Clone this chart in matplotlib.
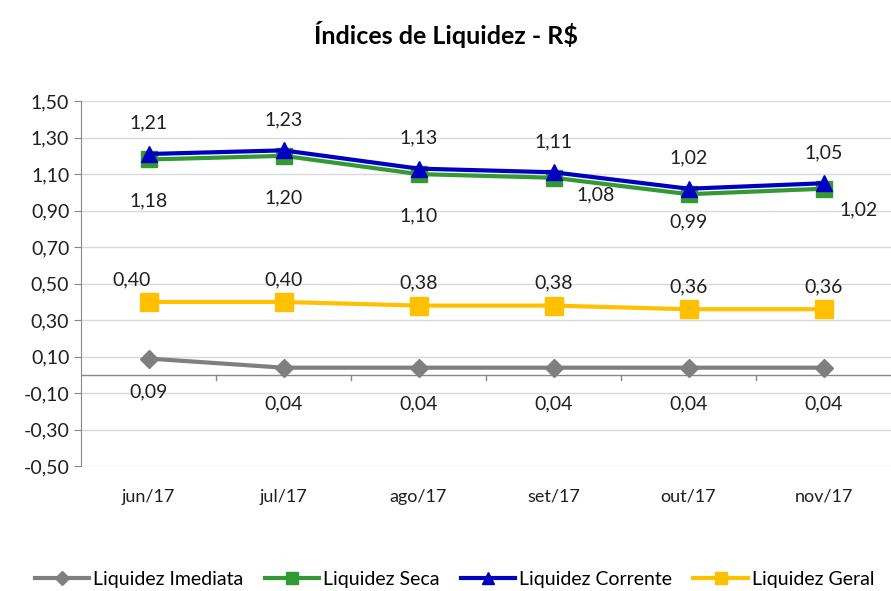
import numpy as np
import matplotlib.pyplot as plt
from matplotlib.ticker import FuncFormatter
from matplotlib.lines import Line2D

plt.rcParams['font.family'] = ['Lato', 'DejaVu Sans']

meses = ['jun/17', 'jul/17', 'ago/17', 'set/17', 'out/17', 'nov/17']
imediata = [0.09, 0.04, 0.04, 0.04, 0.04, 0.04]
seca = [1.18, 1.20, 1.10, 1.08, 0.99, 1.02]
corrente = [1.21, 1.23, 1.13, 1.11, 1.02, 1.05]
geral = [0.40, 0.40, 0.38, 0.38, 0.36, 0.36]

# deslocamento dos rótulos (pontos)
off_seca = [(0, -30), (0, -30), (0, -30), (30, -12), (0, -20), (25, -15)]

def br(v):
    return f'{v:.2f}'.replace('.', ',')

fig = plt.figure(figsize=(8.91, 5.91), dpi=100)
ax = fig.add_axes([0.091, 0.211, 0.909, 0.618])
x = np.arange(len(meses))

ax.plot(x, imediata, color='#7F7F7F', lw=3, marker='D', ms=9, label='Liquidez Imediata', zorder=3)
ax.plot(x, seca, color='#339933', lw=3, marker='s', ms=11, label='Liquidez Seca', zorder=4)
ax.plot(x, corrente, color='#0000C0', lw=3, marker='^', ms=11, label='Liquidez Corrente', zorder=5)
ax.plot(x, geral, color='#FFC000', lw=3, marker='s', ms=13, label='Liquidez Geral', zorder=3)

fs = 14
for i in x:
    ax.annotate(br(corrente[i]), (i, corrente[i]), xytext=(0, 16), textcoords='offset points',
                ha='center', va='bottom', fontsize=fs, color='#202020')
    ax.annotate(br(seca[i]), (i, seca[i]), xytext=off_seca[i], textcoords='offset points',
                ha='center', va='center', fontsize=fs, color='#202020')
    ax.annotate(br(geral[i]), (i, geral[i]), xytext=(-12 if i == 0 else 0, 10), textcoords='offset points',
                ha='center', va='bottom', fontsize=fs, color='#202020')
    ax.annotate(br(imediata[i]), (i, imediata[i]), xytext=(0, -24 if i == 0 else -26), textcoords='offset points',
                ha='center', va='center', fontsize=fs, color='#202020')

ax.set_xlim(-0.5, len(meses) - 0.5)
ax.set_ylim(-0.5, 1.5)
ax.set_yticks(np.arange(-0.5, 1.51, 0.2))
ax.yaxis.set_major_formatter(FuncFormatter(lambda v, p: br(v)))
ax.grid(axis='y', color='#D9D9D9', lw=1)
ax.set_axisbelow(True)

ax.set_xticks(x)
ax.set_xticklabels(meses)
ax.tick_params(axis='x', length=0, labelsize=13, pad=16, labelcolor='#202020')
ax.tick_params(axis='y', length=5, labelsize=14, color='#888888', labelcolor='#202020')

for s in ['top', 'right', 'bottom']:
    ax.spines[s].set_visible(False)
ax.spines['left'].set_color('#888888')
ax.axhline(0, color='#888888', lw=1, zorder=2)
for xt in np.arange(0.5, len(meses) - 0.5):
    ax.plot([xt, xt], [0, -0.03], color='#888888', lw=1, clip_on=False)

fig.suptitle('Índices de Liquidez - R$', fontsize=18, fontweight='bold', y=0.965)

handles = [
    Line2D([], [], color='#7F7F7F', lw=3, marker='D', ms=7),
    Line2D([], [], color='#339933', lw=3, marker='s', ms=8),
    Line2D([], [], color='#0000C0', lw=3, marker='^', ms=9),
    Line2D([], [], color='#FFC000', lw=3, marker='s', ms=9),
]
labels = ['Liquidez Imediata', 'Liquidez Seca', 'Liquidez Corrente', 'Liquidez Geral']
fig.legend(handles, labels, loc='lower center', ncol=4, frameon=False, fontsize=14,
           bbox_to_anchor=(0.51, -0.025), handlelength=2.8, columnspacing=1.1, handletextpad=0.2)

fig.savefig('out.png', dpi=100)
